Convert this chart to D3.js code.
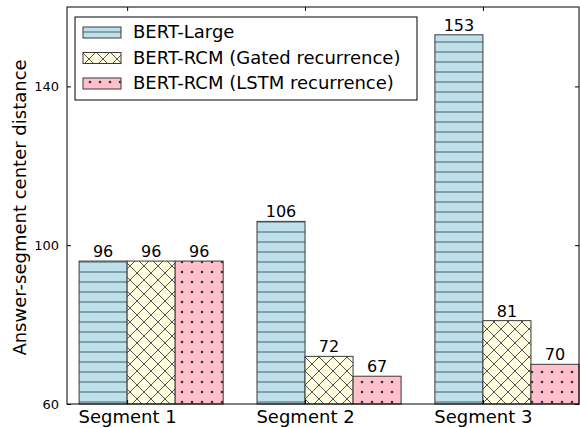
<!DOCTYPE html>
<html>
<head>
<meta charset="utf-8">
<script src="https://cdn.jsdelivr.net/npm/d3@7"></script>
<style>
  body { margin: 0; background: #fff; }
  text { font-family: "DejaVu Sans", sans-serif; fill: #000; }
</style>
</head>
<body>
<div id="chart"></div>
<script>
// chart data
var categories = ["Segment 1", "Segment 2", "Segment 3"];
var seriesNames = ["BERT-Large", "BERT-RCM (Gated recurrence)", "BERT-RCM (LSTM recurrence)"];
var bertLarge = [96, 106, 153];
var gatedRcm = [96, 72, 81];
var lstmRcm = [96, 67, 70];
var yTicks = [60, 100, 140];

var allSeries = [bertLarge, gatedRcm, lstmRcm];
var fills = ["#bde0ea", "#ffffe0", "#ffc0cb"];
var patIds = ["hatchH", "hatchX", "hatchDot"];

var W = 580, H = 428;
var margin = {top: 7, right: 1, bottom: 24, left: 67};
var w = W - margin.left - margin.right,
    h = H - margin.top - margin.bottom;

var barW = 0.27;

var svg = d3.select("#chart").append("svg")
    .attr("width", W)
    .attr("height", H);

// hatch patterns
var defs = svg.append("defs");
var p1 = defs.append("pattern").attr("id", patIds[0]).attr("patternUnits", "userSpaceOnUse")
    .attr("width", 10).attr("height", 10);
p1.append("rect").attr("width", 10).attr("height", 10).attr("fill", fills[0]);
p1.append("line").attr("x1", 0).attr("x2", 10).attr("y1", 5).attr("y2", 5)
    .attr("stroke", "#5f7379").attr("stroke-width", 1.2);

var p2 = defs.append("pattern").attr("id", patIds[1]).attr("patternUnits", "userSpaceOnUse")
    .attr("width", 14).attr("height", 14);
p2.append("rect").attr("width", 14).attr("height", 14).attr("fill", fills[1]);
p2.append("path").attr("d", "M0,0L14,14M14,0L0,14M-7,7L7,21M7,-7L21,7M-7,7L7,-7M7,21L21,7")
    .attr("stroke", "#555").attr("stroke-width", 1).attr("fill", "none");

var p3 = defs.append("pattern").attr("id", patIds[2]).attr("patternUnits", "userSpaceOnUse")
    .attr("width", 10).attr("height", 10);
p3.append("rect").attr("width", 10).attr("height", 10).attr("fill", fills[2]);
p3.append("circle").attr("cx", 5).attr("cy", 5).attr("r", 1.3).attr("fill", "#333");

var g = svg.append("g")
    .attr("transform", "translate(" + margin.left + "," + margin.top + ")");

var xScale = d3.scaleLinear().domain([-0.068, 2.81]).range([0, w]);
var yScale = d3.scaleLinear().domain([60, 160]).range([h, 0]);

// bars + value labels
allSeries.forEach(function (vals, s) {
    g.selectAll(".bar" + s)
        .data(vals).enter()
        .append("rect")
        .attr("class", "bar" + s)
        .attr("x", function (d, i) { return xScale(i + s * barW); })
        .attr("y", function (d) { return yScale(d); })
        .attr("width", xScale(barW) - xScale(0))
        .attr("height", function (d) { return h - yScale(d); })
        .attr("fill", "url(#" + patIds[s] + ")")
        .attr("stroke", "#3a3a3a")
        .attr("stroke-width", 1);

    g.selectAll(".lab" + s)
        .data(vals).enter()
        .append("text")
        .attr("x", function (d, i) { return xScale(i + s * barW + barW / 2); })
        .attr("y", function (d) { return yScale(d) - 4; })
        .attr("text-anchor", "middle")
        .style("font-size", "16px")
        .text(function (d) { return d; });
});

// axes, ticks inside on all four sides
var yAxisL = d3.axisLeft(yScale).tickValues(yTicks).tickSize(-4).tickPadding(8);
var yAxisR = d3.axisRight(yScale).tickValues(yTicks).tickSize(-4).tickFormat("");
var xAxisB = d3.axisBottom(xScale).tickValues([0, 1, 2].map(function (i) { return i + barW; }))
    .tickSize(-4).tickPadding(6).tickFormat(function (d, i) { return categories[i]; });
var xAxisT = d3.axisTop(xScale).tickValues([0, 1, 2].map(function (i) { return i + barW; }))
    .tickSize(-4).tickFormat("");

var gl = g.append("g").call(yAxisL);
gl.selectAll("text").style("font-size", "13px");
g.append("g").attr("transform", "translate(" + w + ",0)").call(yAxisR);
var gb = g.append("g").attr("transform", "translate(0," + h + ")").call(xAxisB);
gb.selectAll("text").style("font-size", "18px").attr("dy", "0.72em");
g.append("g").call(xAxisT);
g.selectAll(".domain").remove();
g.selectAll(".tick line").attr("stroke", "#000");

// frame
g.append("rect").attr("width", w).attr("height", h)
    .attr("fill", "none").attr("stroke", "#000").attr("stroke-width", 1);

// y label
svg.append("text")
    .attr("transform", "translate(26," + (margin.top + h / 2 + 2) + ") rotate(-90)")
    .attr("text-anchor", "middle")
    .style("font-size", "18px")
    .text("Answer-segment center distance");

// legend
var leg = svg.append("g").attr("transform", "translate(75,17)");
leg.append("rect").attr("width", 342).attr("height", 83)
    .attr("fill", "#fff").attr("stroke", "#000").attr("stroke-width", 1);
seriesNames.forEach(function (name, s) {
    var yy = 15 + s * 25.5;
    leg.append("rect").attr("x", 8).attr("y", yy - 5).attr("width", 38).attr("height", 11)
        .attr("fill", "url(#" + patIds[s] + ")").attr("stroke", "#3a3a3a");
    leg.append("text").attr("x", 58).attr("y", yy).attr("dy", "0.35em")
        .style("font-size", "18px").text(name);
});
</script>
</body>
</html>
